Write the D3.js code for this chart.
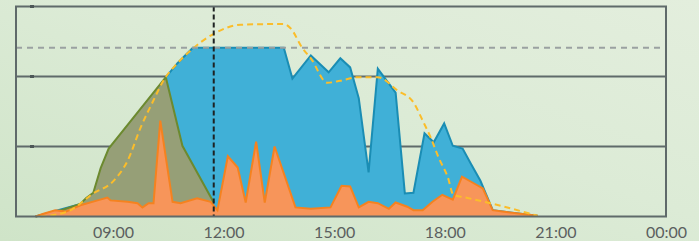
<!DOCTYPE html>
<html>
<head>
<meta charset="utf-8">
<script src="https://cdn.jsdelivr.net/npm/d3@7"></script>
<style>
  body { margin: 0; }
  svg { display: block; }
</style>
</head>
<body>
<div id="chart"></div>
<script>
// donnees (heure, kW)
const pastProduction = [
  ["06:54", 0], ["07:26", 0.06], ["08:07", 0.18], ["08:16", 0.26], ["08:28", 0.34],
  ["08:40", 0.69], ["08:53", 0.97], ["10:26", 1.99], ["10:53", 1.01], ["11:44", 0.2], ["11:44", 0]
];
const production = [
  ["06:54", 0], ["08:28", 0.23], ["09:24", 0.73], ["10:06", 1.59], ["10:26", 1.99],
  ["10:45", 2.19], ["11:10", 2.41], ["13:38", 2.41], ["13:52", 1.97], ["14:22", 2.3],
  ["14:51", 2.06], ["15:10", 2.26], ["15:26", 2.13], ["15:40", 1.69], ["15:56", 0.63],
  ["16:11", 2.11], ["16:40", 1.77], ["16:55", 0.33], ["17:09", 0.34], ["17:27", 1.19],
  ["17:42", 1.06], ["17:59", 1.33], ["18:13", 1.01], ["18:29", 0.97], ["18:42", 0.76],
  ["18:58", 0.51], ["19:18", 0.09], ["19:34", 0.07], ["20:31", 0.01]
];
const consumption = [
  ["06:54", 0], ["07:07", 0.04], ["07:26", 0.09], ["07:43", 0.07], ["08:07", 0.16],
  ["08:35", 0.23], ["08:51", 0.27], ["08:56", 0.23], ["09:24", 0.21], ["09:40", 0.19],
  ["09:48", 0.13], ["09:58", 0.19], ["10:06", 0.19], ["10:17", 1.37], ["10:37", 0.21],
  ["10:50", 0.19], ["11:17", 0.26], ["11:39", 0.21], ["11:50", 0.09], ["12:07", 0.86],
  ["12:23", 0.7], ["12:36", 0.2], ["12:53", 1.07], ["13:07", 0.2], ["13:23", 1.0],
  ["13:57", 0.13], ["14:22", 0.11], ["14:54", 0.13], ["15:12", 0.44], ["15:26", 0.43],
  ["15:40", 0.13], ["15:56", 0.21], ["16:11", 0.19], ["16:29", 0.11], ["16:40", 0.2],
  ["16:59", 0.14], ["17:09", 0.09], ["17:24", 0.09], ["17:40", 0.21], ["17:56", 0.31],
  ["18:13", 0.24], ["18:28", 0.57], ["18:42", 0.5], ["19:02", 0.4], ["19:18", 0.09],
  ["19:34", 0.07], ["20:31", 0.01]
];
const clearSky = [
  ["07:02", 0], ["07:46", 0.07], ["08:28", 0.33], ["09:01", 0.51], ["09:24", 0.8],
  ["09:45", 1.27], ["10:06", 1.66], ["10:22", 1.94], ["10:45", 2.19], ["11:10", 2.4],
  ["11:44", 2.61], ["12:28", 2.74], ["13:38", 2.75], ["13:49", 2.69], ["14:08", 2.41],
  ["14:22", 2.26], ["14:49", 1.91], ["15:10", 1.94], ["15:38", 1.99], ["16:11", 1.99],
  ["16:43", 1.8], ["17:09", 1.63], ["17:24", 1.37], ["17:37", 1.13], ["17:50", 0.84],
  ["18:05", 0.56], ["18:14", 0.31], ["18:34", 0.27], ["19:14", 0.19], ["20:31", 0.01]
];
const limitKw = 2.41;
const nowTime = "11:44";
const xTicks = ["09:00", "12:00", "15:00", "18:00", "21:00", "00:00"];
const yGrid = [1, 2];

const W = 699, H = 241;
const hours = (s) => {
  const [h, m] = s.split(":").map(Number);
  return h === 0 && m === 0 ? 24 : h + m / 60;
};

const svg = d3.select("#chart").append("svg").attr("width", W).attr("height", H);

// fond degrade vert clair
const defs = svg.append("defs");
const grad = defs.append("linearGradient").attr("id", "bg")
  .attr("x1", "0").attr("y1", "1").attr("x2", "1").attr("y2", "0");
grad.append("stop").attr("offset", "0%").attr("stop-color", "#cfe4c8");
grad.append("stop").attr("offset", "55%").attr("stop-color", "#dcebd6");
grad.append("stop").attr("offset", "100%").attr("stop-color", "#e3eedd");
svg.append("rect").attr("width", W).attr("height", H).attr("fill", "url(#bg)");

const x = d3.scaleLinear().domain([6.37, 24]).range([16, 666]);
const y = d3.scaleLinear().domain([0, 3]).range([216.5, 6.5]);

// grille horizontale
svg.selectAll("line.grid")
  .data(yGrid)
  .enter()
  .append("line")
  .attr("class", "grid")
  .attr("x1", x.range()[0]).attr("x2", x.range()[1])
  .attr("y1", (d) => y(d)).attr("y2", (d) => y(d))
  .style("stroke", "#5f6a6a")
  .style("stroke-width", 2);

const area = d3.area()
  .x((d) => x(hours(d[0])))
  .y0(y(0))
  .y1((d) => y(d[1]));
const line = d3.line()
  .x((d) => x(hours(d[0])))
  .y((d) => y(d[1]));

// production (bleu)
svg.append("path").datum(production).attr("d", area).style("fill", "#40b0d7");
svg.append("path").datum(production).attr("d", line)
  .style("fill", "none").style("stroke", "#1a8db4").style("stroke-width", 2);

// production passee (olive)
svg.append("path").datum(pastProduction).attr("d", area).style("fill", "#969f77");
svg.append("path").datum(pastProduction.slice(0, -1)).attr("d", line)
  .style("fill", "none").style("stroke", "#6c8a2f").style("stroke-width", 2);

// consommation (orange)
svg.append("path").datum(consumption).attr("d", area).style("fill", "#f7955a");
svg.append("path").datum(consumption).attr("d", line)
  .style("fill", "none").style("stroke", "#f5821f").style("stroke-width", 2);

// ciel clair (pointilles jaunes)
svg.append("path").datum(clearSky)
  .attr("d", line.curve(d3.curveMonotoneX))
  .style("fill", "none")
  .style("stroke", "#fbbd2a")
  .style("stroke-width", 2)
  .style("stroke-dasharray", "6,4");

// limite
svg.append("line")
  .attr("x1", x.range()[0]).attr("x2", x.range()[1] - 4)
  .attr("y1", y(limitKw)).attr("y2", y(limitKw))
  .style("stroke", "#9aa1a1")
  .style("stroke-width", 2)
  .style("stroke-dasharray", "6,5");

// maintenant
svg.append("line")
  .attr("x1", x(hours(nowTime))).attr("x2", x(hours(nowTime)))
  .attr("y1", y(3)).attr("y2", y(0))
  .style("stroke", "#1e2222")
  .style("stroke-width", 2)
  .style("stroke-dasharray", "5,3");

// cadre
svg.append("rect")
  .attr("x", x.range()[0]).attr("y", y(3))
  .attr("width", x.range()[1] - x.range()[0])
  .attr("height", y(0) - y(3))
  .style("fill", "none")
  .style("stroke", "#5f6a6a")
  .style("stroke-width", 2);

// petits reperes a gauche
svg.selectAll("line.mark")
  .data([3, 2, 1])
  .enter()
  .append("line")
  .attr("x1", 30).attr("x2", 34)
  .attr("y1", (d) => y(d)).attr("y2", (d) => y(d))
  .style("stroke", "#4d5757")
  .style("stroke-width", 3);

// axe x
const xAxis = svg.append("g")
  .attr("transform", "translate(0," + y(0) + ")")
  .call(d3.axisBottom(x)
    .tickValues(xTicks.map(hours))
    .tickSize(0)
    .tickFormat((d) => xTicks[xTicks.map(hours).indexOf(d)]));
xAxis.select(".domain").remove();
xAxis.selectAll("text")
  .attr("y", 21.5)
  .attr("dy", 0)
  .style("fill", "#5b5f5f")
  .style("font-family", "Lato")
  .style("font-size", "16px");
</script>
</body>
</html>
